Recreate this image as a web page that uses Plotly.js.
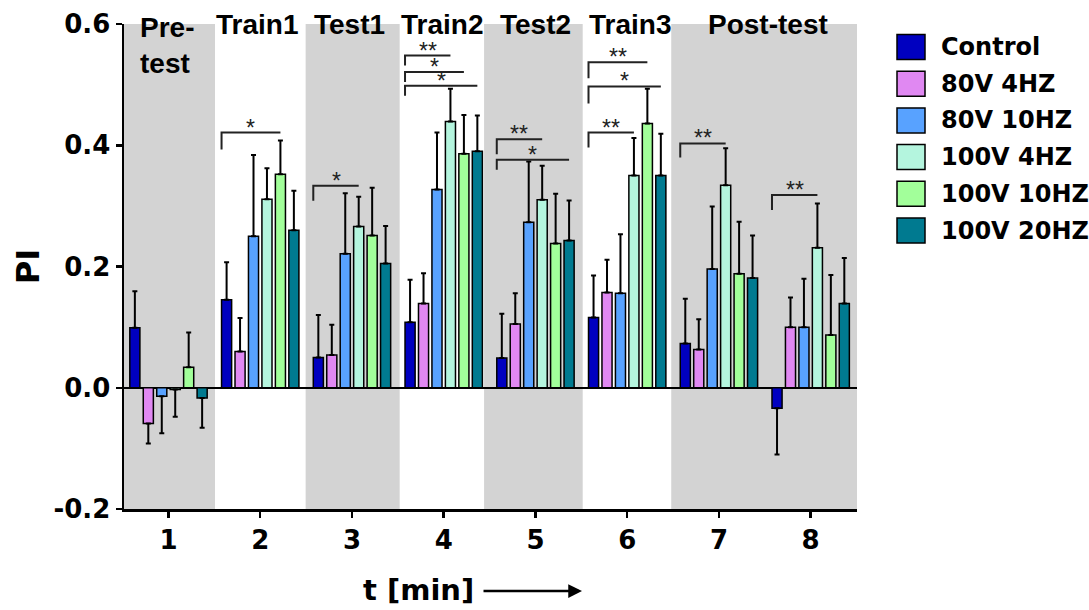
<!DOCTYPE html>
<html>
<head>
<meta charset="utf-8">
<script src="https://cdn.plot.ly/plotly-3.0.1.min.js"></script>
<style>html,body{margin:0;padding:0;background:#fff;}#chart{width:1089px;height:610px;}</style>
</head>
<body>
<div id="chart"></div>
<script>
// ---------- data ----------
const timePoints = [1, 2, 3, 4, 5, 6, 7, 8];
const seriesNames = ['Control', '80V 4HZ', '80V 10HZ', '100V 4HZ', '100V 10HZ', '100V 20HZ'];
const seriesColors = ['#0000C0', '#E088F2', '#58A2FF', '#B4F5DE', '#A2FF9A', '#007A90'];

const piControl  = [0.099, 0.145, 0.050, 0.108, 0.049, 0.116, 0.073, -0.034];
const piV80Hz4   = [-0.059, 0.060, 0.054, 0.139, 0.105, 0.157, 0.063, 0.100];
const piV80Hz10  = [-0.014, 0.250, 0.221, 0.327, 0.273, 0.156, 0.196, 0.100];
const piV100Hz4  = [-0.003, 0.311, 0.266, 0.439, 0.310, 0.350, 0.334, 0.231];
const piV100Hz10 = [0.034, 0.352, 0.251, 0.386, 0.238, 0.436, 0.188, 0.087];
const piV100Hz20 = [-0.017, 0.260, 0.205, 0.390, 0.243, 0.350, 0.181, 0.139];

const errControl  = [0.060, 0.062, 0.070, 0.070, 0.073, 0.069, 0.074, 0.076];
const errV80Hz4   = [0.033, 0.055, 0.050, 0.050, 0.051, 0.054, 0.050, 0.049];
const errV80Hz10  = [0.061, 0.134, 0.100, 0.094, 0.100, 0.097, 0.103, 0.080];
const errV100Hz4  = [0.045, 0.051, 0.049, 0.054, 0.056, 0.062, 0.061, 0.073];
const errV100Hz10 = [0.057, 0.056, 0.079, 0.064, 0.082, 0.057, 0.086, 0.099];
const errV100Hz20 = [0.049, 0.065, 0.062, 0.059, 0.066, 0.069, 0.070, 0.075];

const phaseLabels = ['Pre-<br>test', 'Train1', 'Test1', 'Train2', 'Test2', 'Train3', 'Post-test'];
const phaseLabelX = [0.67, 1.964, 2.97, 3.98, 5.0, 6.03, 7.54];
const bandStart = [0.515, 2.495, 4.44, 6.48];
const bandEnd   = [1.507, 3.52, 5.515, 8.505];

// significance brackets: group, target series index (from Control), level, label
const bracketGroup  = [2, 3, 4, 4, 4, 5, 5, 6, 6, 6, 7, 8];
const bracketTarget = [4, 3, 3, 4, 5, 3, 5, 4, 5, 3, 3, 3];
const bracketLevel  = [0.421, 0.333, 0.548, 0.521, 0.498, 0.410, 0.376, 0.537, 0.497, 0.421, 0.403, 0.318];
const bracketLabel  = ['*', '*', '**', '*', '*', '**', '*', '**', '*', '**', '**', '**'];

const yTickVals = [-0.2, 0.0, 0.2, 0.4, 0.6];
const yTickText = ['-0.2', '0.0', '0.2', '0.4', '0.6'];

// ---------- styling / layout helpers ----------
const seriesValues = [piControl, piV80Hz4, piV80Hz10, piV100Hz4, piV100Hz10, piV100Hz20];
const seriesErrors = [errControl, errV80Hz4, errV80Hz10, errV100Hz4, errV100Hz10, errV100Hz20];
const bracketLegPx = [17, 15, 10, 10, 10, 15, 10, 16, 17, 15, 14, 15];

const W = 1089, H = 610;
const M = {l: 124, r: 232, t: 24, b: 101};
const PW = W - M.l - M.r, PH = H - M.t - M.b;
const px2x = p => (p - M.l) / PW;
const py2y = p => (H - M.b - p) / PH;
const Y_RANGE = [-0.2, 0.6];
const unitsPerPx = (Y_RANGE[1] - Y_RANGE[0]) / PH;

const BARGAP = 0.12, GROUPGAP = 0.25;
const nS = seriesNames.length;
const slot = (1 - BARGAP) / nS;
const barW = slot * (1 - GROUPGAP);
const offsetOf = i => (i - (nS - 1) / 2) * slot;

const boldFont = 'DejaVu Sans, Liberation Sans, Arial, sans-serif';
const arialFont = 'Liberation Sans, Arial, sans-serif';

const traces = seriesNames.map((name, s) => {
  const vals = seriesValues[s], errs = seriesErrors[s];
  return {
    type: 'bar', name: name, x: timePoints, y: vals,
    marker: {color: seriesColors[s], line: {color: '#000', width: 1.5}},
    error_y: {
      type: 'data', symmetric: false,
      array: vals.map((v, i) => v >= 0 ? errs[i] : 0),
      arrayminus: vals.map((v, i) => v < 0 ? errs[i] : 0),
      color: '#000', thickness: 2, width: 2.5
    },
    showlegend: false, hoverinfo: 'x+y'
  };
});

const shapes = [];
bandStart.forEach((x0, i) => {
  shapes.push({type: 'rect', xref: 'x', yref: 'paper', x0: x0, x1: bandEnd[i], y0: 0, y1: 1,
    fillcolor: '#D3D3D3', line: {width: 0}, layer: 'below'});
});

const annotations = [];
// brackets
bracketGroup.forEach((g, k) => {
  const xl = g + offsetOf(0) - barW / 2;
  const xr = g + offsetOf(bracketTarget[k]);
  const y = bracketLevel[k];
  const yLeg = y - bracketLegPx[k] * unitsPerPx;
  shapes.push({type: 'path', xref: 'x', yref: 'y',
    path: `M ${xl} ${yLeg} L ${xl} ${y} L ${xr} ${y}`,
    line: {color: '#222', width: 2}});
  annotations.push({xref: 'x', yref: 'y', x: (xl + xr) / 2, y: y, text: bracketLabel[k],
    showarrow: false, xanchor: 'center', yanchor: 'bottom', yshift: -10,
    font: {family: arialFont, size: 23, color: '#222'}});
});
// phase labels
phaseLabels.forEach((t, i) => {
  const multi = t.indexOf('<br>') >= 0;
  annotations.push({xref: 'x', yref: 'paper', x: phaseLabelX[i], y: 1, text: t,
    showarrow: false, xanchor: multi ? 'left' : 'center', align: 'left',
    yanchor: multi ? 'top' : 'middle', yshift: multi ? 14 : 0,
    font: {family: arialFont, size: 28, color: '#000', weight: 'bold'}});
});
// custom legend
seriesNames.forEach((name, s) => {
  const cy = 47 + s * 36.7;
  shapes.push({type: 'rect', xref: 'paper', yref: 'paper',
    x0: px2x(897), x1: px2x(925), y0: py2y(cy + 12.5), y1: py2y(cy - 12.5),
    fillcolor: seriesColors[s], line: {color: '#000', width: 1.5}});
  annotations.push({xref: 'paper', yref: 'paper', x: px2x(939), y: py2y(cy), text: name,
    showarrow: false, xanchor: 'left', yanchor: 'middle',
    font: {family: boldFont, size: 24, color: '#000', weight: 'bold'}});
});
// x title and arrow
annotations.push({xref: 'paper', yref: 'paper', x: px2x(418), y: py2y(590), text: 't [min]',
  showarrow: false, xanchor: 'center', yanchor: 'middle',
  font: {family: boldFont, size: 29, color: '#000', weight: 'bold'}});
annotations.push({xref: 'paper', yref: 'paper', x: px2x(582), y: py2y(591), text: '',
  showarrow: true, axref: 'pixel', ayref: 'pixel', ax: -100, ay: 0,
  arrowhead: 2, arrowsize: 1.1, arrowwidth: 2.5, arrowcolor: '#000'});

const layout = {
  width: W, height: H,
  margin: M,
  paper_bgcolor: '#fff', plot_bgcolor: '#fff',
  barmode: 'group', bargap: BARGAP, bargroupgap: GROUPGAP,
  showlegend: false,
  font: {family: boldFont, color: '#000'},
  xaxis: {
    range: [0.515, 8.505], tickvals: timePoints, ticktext: timePoints.map(String),
    showline: true, linecolor: '#000', linewidth: 2.5,
    ticks: 'outside', ticklen: 6, tickwidth: 2.5, tickcolor: '#000',
    showgrid: false, zeroline: false,
    tickfont: {family: boldFont, size: 26, color: '#000', weight: 'bold'}
  },
  yaxis: {
    range: Y_RANGE, tickvals: yTickVals, ticktext: yTickText,
    showline: true, linecolor: '#000', linewidth: 2.5,
    ticks: 'outside', ticklen: 6, tickwidth: 2.5, tickcolor: '#000',
    showgrid: false, zeroline: true, zerolinecolor: '#000', zerolinewidth: 2.5,
    tickfont: {family: boldFont, size: 26, color: '#000', weight: 'bold'},
    title: {text: 'PI', standoff: 4, font: {family: boldFont, size: 32, color: '#000', weight: 'bold'}}
  },
  shapes: shapes,
  annotations: annotations
};

Plotly.newPlot('chart', traces, layout, {displayModeBar: false, staticPlot: true});
</script>
</body>
</html>
